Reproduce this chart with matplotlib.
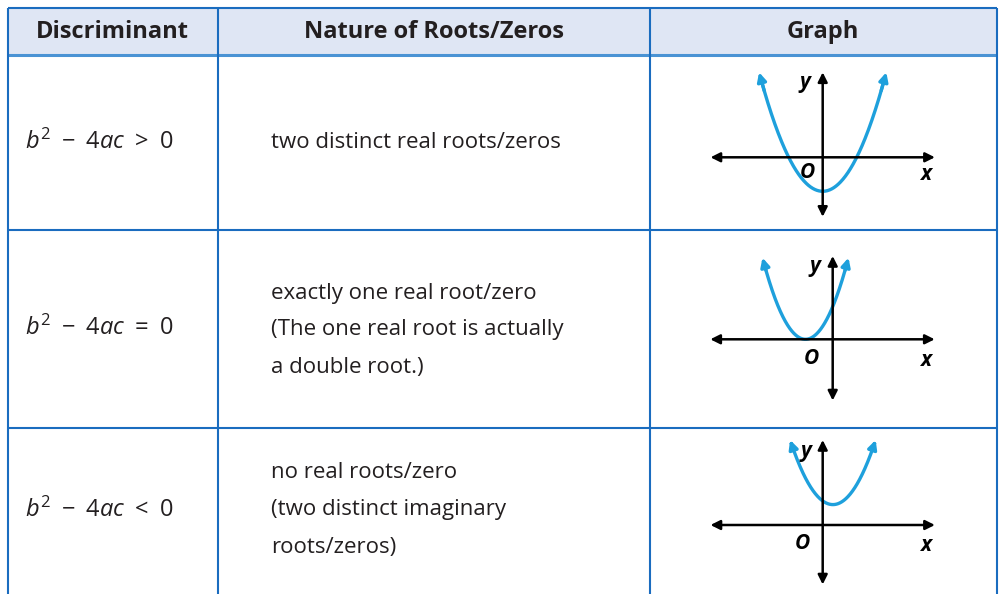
import numpy as np
import matplotlib
matplotlib.use("Agg")
import matplotlib.pyplot as plt

plt.rcParams['font.family'] = ['Open Sans', 'DejaVu Sans']
plt.rcParams['mathtext.fontset'] = 'custom'
plt.rcParams['mathtext.rm'] = 'Open Sans'
plt.rcParams['mathtext.it'] = 'Open Sans:italic'
plt.rcParams['mathtext.bf'] = 'Open Sans:bold'

# table content
headers = ["Discriminant", "Nature of Roots/Zeros", "Graph"]
discriminants = [r"$b^2\ -\ \mathit{4ac}\ >\ 0$",
                 r"$b^2\ -\ \mathit{4ac}\ =\ 0$",
                 r"$b^2\ -\ \mathit{4ac}\ <\ 0$"]
natures = [
    ["two distinct real roots/zeros"],
    ["exactly one real root/zero", "(The one real root is actually", "a double root.)"],
    ["no real roots/zero", "(two distinct imaginary", "roots/zeros)"],
]

# parabola y = a (x - h)^2 + k, drawn up to y = top
curve_a = [1.0, 1.5, 1.2]
vertex_x = [0.0, -0.8, 0.3]
vertex_y = [-1.0, 0.0, 0.6]
curve_top = [2.5, 2.4, 2.5]

# axis extents of each small graph (graph units)
axis_xmin = [-3.3, -3.6, -3.3]
axis_xmax = [3.3, 3.0, 3.3]
axis_ymin = [-1.75, -1.8, -1.75]
axis_ymax = [2.5, 2.45, 2.5]

# label positions (graph units)
ylab_pos = [(-0.52, 2.19), (-0.52, 2.13), (-0.49, 2.15)]
olab_pos = [(-0.46, -0.45), (-0.62, -0.55), (-0.61, -0.53)]
xlab_pos = [(3.03, -0.52), (2.74, -0.61), (3.03, -0.59)]

# layout (pixels)
W, H = 999, 594
col_x = [8, 217.5, 649.5, 997]
row_y = [7.5, 54.5, 230, 427.5]
graph_origin = [(822.7, 157.3), (832.7, 339.3), (822.7, 525.0)]
px_per_unit = 34.0
line_y = [[142], [293, 330, 367], [472, 510, 547]]
math_y = [142, 328, 510]

border = '#1a6cbf'
header_fill = '#dfe6f4'
text_col = '#231f20'
curve_col = '#1ea0dc'

fig = plt.figure(figsize=(W / 100, H / 100), dpi=100)
ax = fig.add_axes([0, 0, 1, 1])
ax.set_xlim(0, W)
ax.set_ylim(H, 0)
ax.axis('off')

# header
ax.fill_between([col_x[0], col_x[-1]], row_y[0], row_y[1], color=header_fill, lw=0)
for i, h in enumerate(headers):
    ax.text((col_x[i] + col_x[i + 1]) / 2, (row_y[0] + row_y[1]) / 2 + 1, h,
            ha='center', va='center', fontsize=17, fontweight='bold', color=text_col)

# grid lines
ax.hlines(row_y[0], col_x[0], col_x[-1], color=border, lw=1.5)
ax.hlines(row_y[1], col_x[0], col_x[-1], color='#4a93d4', lw=2.2)
ax.hlines(row_y[2:], col_x[0], col_x[-1], color=border, lw=1.5)
ax.vlines(col_x, row_y[0], H, color=border, lw=1.5)

# text cells
for i in range(3):
    ax.text(25, math_y[i], discriminants[i], ha='left', va='center',
            fontsize=17, color=text_col)
    for ln, yy in zip(natures[i], line_y[i]):
        ax.text(271, yy, ln, ha='left', va='center', fontsize=16, color=text_col)

# small graphs
pad = 0.4
for i in range(3):
    ox, oy = graph_origin[i]
    x0, x1 = axis_xmin[i] - pad, axis_xmax[i] + pad
    y0, y1 = axis_ymin[i] - pad, axis_ymax[i] + pad
    left = (ox + x0 * px_per_unit) / W
    bottom = (H - (oy - y0 * px_per_unit)) / H
    gax = fig.add_axes([left, bottom, (x1 - x0) * px_per_unit / W,
                        (y1 - y0) * px_per_unit / H])
    gax.set_xlim(x0, x1)
    gax.set_ylim(y0, y1)
    gax.axis('off')
    gax.patch.set_alpha(0)

    ak = dict(arrowstyle='<|-|>', lw=1.8, color='black', mutation_scale=14,
              shrinkA=0, shrinkB=0)
    gax.annotate('', xy=(axis_xmax[i], 0), xytext=(axis_xmin[i], 0), arrowprops=ak)
    gax.annotate('', xy=(0, axis_ymax[i]), xytext=(0, axis_ymin[i]), arrowprops=ak)

    a, h, k = curve_a[i], vertex_x[i], vertex_y[i]
    half = np.sqrt((curve_top[i] - k) / a)
    xs = np.linspace(h - half, h + half, 300)
    ys = a * (xs - h) ** 2 + k
    gax.plot(xs[3:-3], ys[3:-3], color=curve_col, lw=2.4, solid_capstyle='butt')
    ck = dict(arrowstyle='-|>', lw=2.4, color=curve_col, mutation_scale=13,
              shrinkA=0, shrinkB=0)
    gax.annotate('', xy=(xs[0], ys[0]), xytext=(xs[12], ys[12]), arrowprops=ck)
    gax.annotate('', xy=(xs[-1], ys[-1]), xytext=(xs[-13], ys[-13]), arrowprops=ck)

    lab = dict(ha='center', va='center', fontsize=15, fontweight='bold',
               fontstyle='italic', color='black')
    gax.text(*ylab_pos[i], 'y', **lab)
    gax.text(*olab_pos[i], 'O', **lab)
    gax.text(*xlab_pos[i], 'x', **lab)

fig.savefig('out.png', dpi=100)
